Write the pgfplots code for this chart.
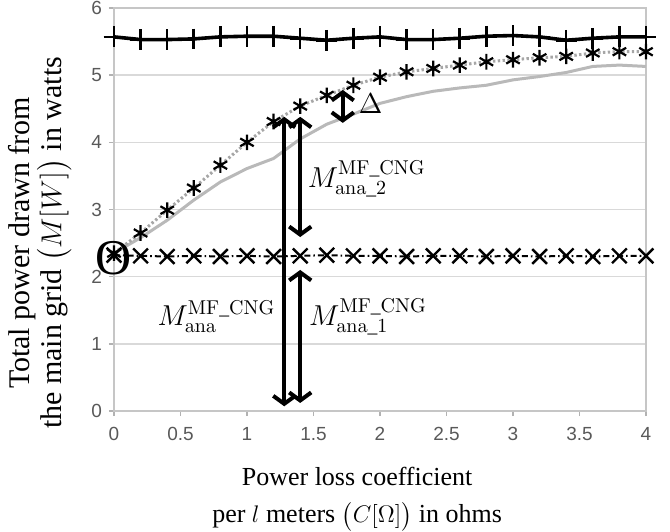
\documentclass[border=0pt]{standalone}
\usepackage{amsmath}
\usepackage[no-math]{fontspec}
\setmainfont{Liberation Serif}
\newfontfamily\ticksf{Liberation Sans}
\usepackage{pgfplots}
\usepackage{pgfplotstable}
\pgfplotsset{compat=1.18}
\usetikzlibrary{arrows.meta}

\pgfplotstableread{
x   top  star gray cross
0.0 5.57 2.35 2.35 2.32
0.2 5.53 2.65 2.58 2.31
0.4 5.53 2.99 2.84 2.30
0.6 5.54 3.32 3.14 2.31
0.8 5.57 3.66 3.41 2.30
1.0 5.58 4.00 3.61 2.31
1.2 5.58 4.31 3.76 2.30
1.4 5.55 4.54 4.05 2.31
1.6 5.52 4.70 4.27 2.32
1.8 5.55 4.85 4.42 2.31
2.0 5.57 4.97 4.58 2.31
2.2 5.53 5.05 4.68 2.30
2.4 5.53 5.10 4.76 2.31
2.6 5.55 5.15 4.81 2.31
2.8 5.58 5.20 4.85 2.30
3.0 5.59 5.23 4.93 2.31
3.2 5.57 5.26 4.98 2.30
3.4 5.52 5.28 5.04 2.31
3.6 5.55 5.33 5.13 2.30
3.8 5.57 5.35 5.15 2.31
4.0 5.57 5.35 5.13 2.31
}\powerdata

\tikzset{barb/.style={line width=2pt,
  {Straight Barb[length=4pt,width=11pt]}-{Straight Barb[length=4pt,width=11pt]}}}

\begin{document}
\begin{tikzpicture}
\path[use as bounding box] (-57pt,-60pt) rectangle (278pt,205.5pt);
\begin{axis}[
    at={(0pt,0pt)}, anchor=south west,
    width=266pt, height=201.5pt, scale only axis,
    xmin=0, xmax=4, ymin=0, ymax=6,
    xtick={0,0.5,...,4}, ytick={0,1,...,6},
    xtick pos=bottom, ytick pos=left,
    tick align=outside, major tick length=2.5pt,
    ymajorgrids,
    grid style={gray!30, line width=0.7pt},
    axis line style={gray!45, line width=0.7pt},
    tick style={gray!60, line width=0.7pt},
    ticklabel style={font=\ticksf\fontsize{9.5}{11}\selectfont, text=black!65},
    xticklabel style={yshift=-2pt},
    /pgf/number format/assume math mode=true,
    clip=false,
    xlabel={Power loss coefficient\\per $l$ meters $\big(C[\Omega]\big)$ in ohms},
    xlabel style={at={(axis description cs:0.457,-0.139)}, anchor=north,
        align=center, inner sep=0pt, font=\fontsize{13}{18.5}\selectfont},
    ylabel={Total power drawn from\\the main grid $\big(M[W]\big)$ in watts},
    ylabel style={at={(axis description cs:-0.079,0.417)}, anchor=south,
        align=center, inner sep=0pt, font=\fontsize{15}{16}\selectfont},
]
\addplot[black, line width=1.8pt, mark=+, mark size=5.2pt,
    mark options={line width=1.3pt}] table[x=x, y=top] {\powerdata};
\addplot[gray!55, line width=1.5pt] table[x=x, y=gray] {\powerdata};
\addplot[gray!70, line width=1.5pt, dash pattern=on 1.2pt off 1.2pt,
    mark=asterisk, mark size=3.9pt,
    mark options={black, solid, line width=1.1pt}] table[x=x, y=star] {\powerdata};
\addplot[black, line width=1pt, dash pattern=on 3pt off 1.5pt on 0.8pt off 1.5pt,
    mark=x, mark size=5.2pt,
    mark options={solid, line width=1.2pt}] table[x=x, y=cross] {\powerdata};

\draw[barb] (axis cs:1.28,0.07) -- (axis cs:1.28,4.38);
\draw[barb] (axis cs:1.40,2.59) -- (axis cs:1.40,4.38);
\draw[barb] (axis cs:1.40,0.12) -- (axis cs:1.40,2.10);
\draw[barb] (axis cs:1.72,4.29) -- (axis cs:1.72,4.78);

\node[anchor=base, font=\fontsize{14}{16}\selectfont] at (axis cs:0.77,1.28)
    {$M_{\mathrm{ana}}^{\mathrm{MF\_CNG}}$};
\node[anchor=base, font=\fontsize{14}{16}\selectfont] at (axis cs:1.91,1.28)
    {$M_{\mathrm{ana\_1}}^{\mathrm{MF\_CNG}}$};
\node[anchor=base, font=\fontsize{14}{16}\selectfont] at (axis cs:1.90,3.33)
    {$M_{\mathrm{ana\_2}}^{\mathrm{MF\_CNG}}$};
\node[font=\fontsize{15}{16}\selectfont] at (axis cs:1.93,4.58) {$\Delta$};
\node[inner sep=0pt, font=\fontsize{25}{25}\selectfont] at (axis cs:0.0,2.27) {O};
\end{axis}
\end{tikzpicture}
\end{document}
